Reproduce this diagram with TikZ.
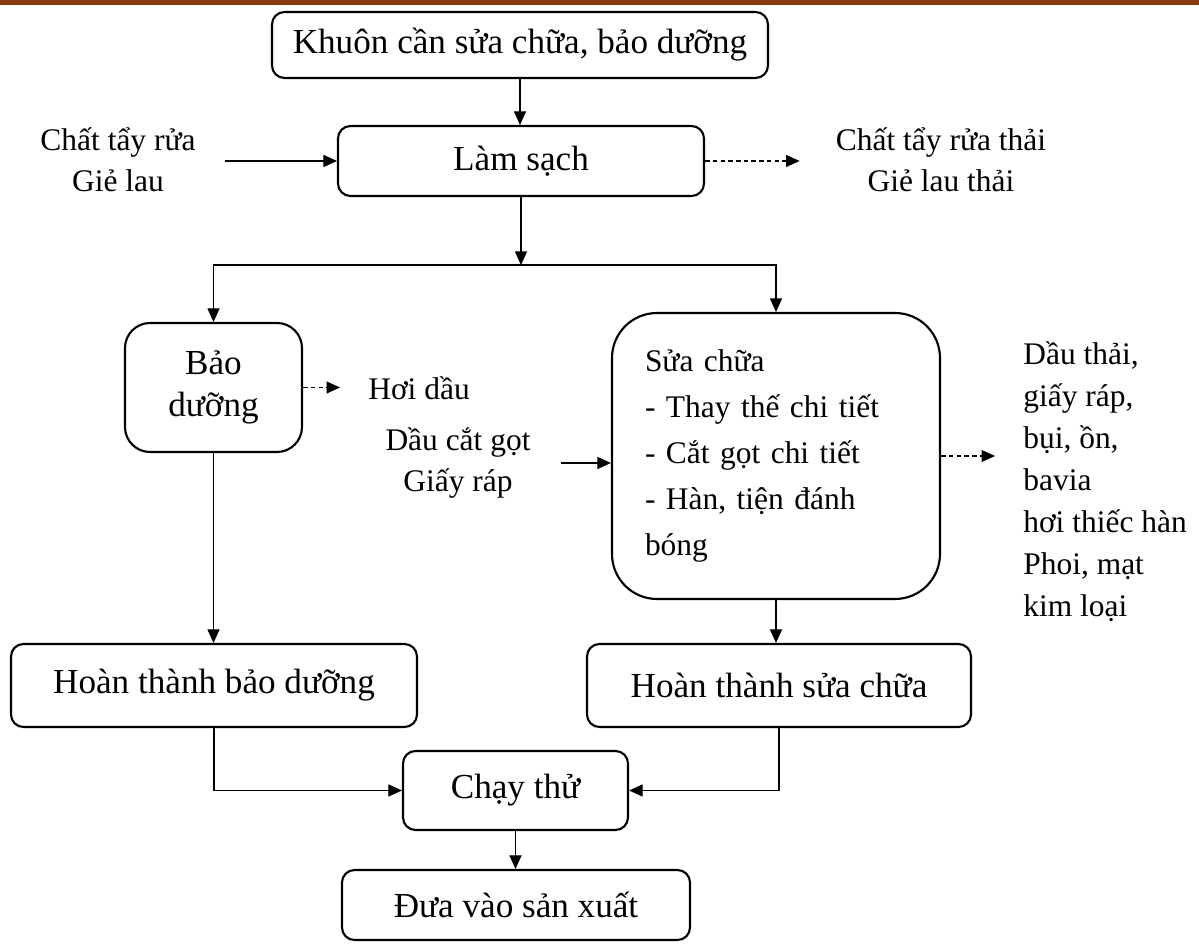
\documentclass[tikz,border=0pt]{standalone}
\usepackage{fontspec}
\setmainfont{Liberation Serif}
\usetikzlibrary{arrows.meta,positioning,calc}
\definecolor{bar}{HTML}{843C0C}

\begin{document}
\begin{tikzpicture}[
  >={Triangle[length=0.27cm,width=0.24cm]},
  font=\fontsize{20}{24}\selectfont,
  box/.style={draw, line width=1.2pt, rounded corners=0.25cm, align=center, inner sep=0pt},
  note/.style={inner sep=0pt, align=center, font=\fontsize{17.9}{23.3}\selectfont},
  arr/.style={->, line width=0.6pt},
  waste/.style={->, line width=0.6pt, dash pattern=on 2.6pt off 1.8pt},
]
\useasboundingbox (0,0) rectangle (23.98,-18.92);
\fill[bar] (0,0) rectangle (23.98,-0.1);

% main steps
\node[box, minimum width=9.92cm, minimum height=1.32cm] (khuon) at (10.4,-0.9) {Khuôn cần sửa chữa, bảo dưỡng};
\node[box, minimum width=7.32cm, minimum height=1.4cm] (lamsach) at (10.42,-3.22) {Làm sạch};
\node[box, rounded corners=0.5cm, minimum width=3.54cm, minimum height=2.58cm] (baoduong) at (4.27,-7.75) {Bảo\\ dưỡng};
\node[box, rounded corners=0.9cm, align=left, text width=5.24cm, inner xsep=0.66cm, minimum height=5.72cm,
  font=\fontsize{17.9}{26.2}\selectfont] (suachua) at (15.52,-9.12)
  {Sửa chữa\\ - Thay thế chi tiết\\ - Cắt gọt chi tiết\\ - Hàn, tiện đánh\\ bóng};
\node[box, minimum width=8.12cm, minimum height=1.66cm] (htbd) at (4.28,-13.71) {Hoàn thành bảo dưỡng};
\node[box, minimum width=7.68cm, minimum height=1.66cm] (htsc) at (15.58,-13.71) {Hoàn thành sửa chữa};
\node[box, minimum width=4.5cm, minimum height=1.58cm] (chaythu) at (10.31,-15.81) {Chạy thử};
\node[box, minimum width=6.96cm, minimum height=1.4cm] (duavao) at (10.32,-18.1) {Đưa vào sản xuất};

% inputs and wastes
\node[note] (chat) at (2.36,-3.2) {Chất tẩy rửa\\ Giẻ lau};
\node[note] (thai) at (18.82,-3.2) {Chất tẩy rửa thải\\ Giẻ lau thải};
\node[note, anchor=west] (hoidau) at (7.36,-7.76) {Hơi dầu};
\node[note] (daucat) at (9.16,-9.26) {Dầu cắt gọt\\ Giấy ráp};
\node[note, anchor=west, align=left, font=\fontsize{17.9}{23.9}\selectfont] (phoi) at (20.46,-9.64)
  {Dầu thải,\\ giấy ráp,\\ bụi, ồn,\\ bavia\\ hơi thiếc hàn\\ Phoi, mạt\\ kim loại};

\coordinate (split) at (10.42,-5.3);

\draw[arr] (khuon.south) -- (khuon.south |- lamsach.north);
\draw[arr] (lamsach.south) -- (split);
\draw[arr] (split) -| (baoduong.north);
\draw[arr] (split) -| (suachua.north);
\draw[arr] (baoduong.south) -- (baoduong.south |- htbd.north);
\draw[arr] (suachua.south) -- (suachua.south |- htsc.north);
\draw[arr] (htbd.south) |- (chaythu.west);
\draw[arr] (htsc.south) |- (chaythu.east);
\draw[arr] (chaythu.south) -- (chaythu.south |- duavao.north);

\draw[arr, shorten <=0.58cm] (chat.east |- lamsach.west) -- (lamsach.west);
\draw[arr, shorten <=0.6cm] (daucat.east) -- (daucat.east -| suachua.west);
\draw[waste, shorten >=0.72cm] (lamsach.east) -- (lamsach.east -| thai.west);
\draw[waste, shorten >=0.56cm] (baoduong.east) -- (baoduong.east -| hoidau.west);
\draw[waste, shorten >=0.56cm] (suachua.east) -- (suachua.east -| phoi.west);

\end{tikzpicture}
\end{document}
